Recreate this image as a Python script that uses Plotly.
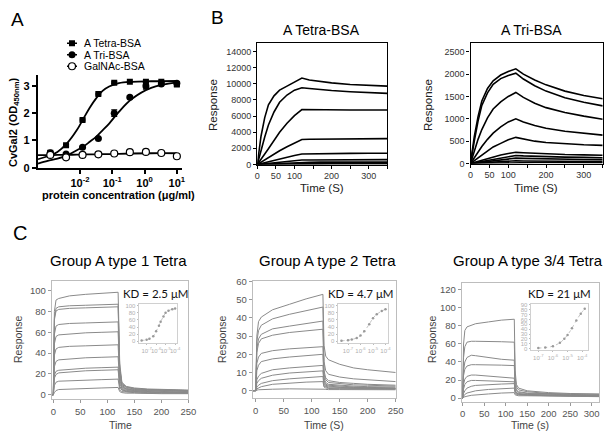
import plotly.graph_objects as go

W, H = 615, 443

# ---------------- Panel A: ELISA ----------------
A_CONC = [0.0012, 0.0037, 0.012, 0.037, 0.115, 0.35, 1.1, 3.3, 10]
A_TETRA = [0.55, 0.82, 1.75, 2.7, 3.12, 3.15, 3.15, 3.15, 3.05]
A_TETRA_ERR = [0.03, 0.03, 0.03, 0.03, 0.03, 0.02, 0.02, 0.02, 0.06]
A_TRI = [0.55, 0.5, 0.75, 1.07, 2.0, 2.58, 3.0, 3.07, 3.1]
A_TRI_ERR = [0.05, 0.04, 0.03, 0.03, 0.12, 0.05, 0.12, 0.04, 0.04]
A_GALNAC = [0.47, 0.38, 0.47, 0.49, 0.52, 0.57, 0.58, 0.54, 0.42]
A_GALNAC_ERR = [0.03, 0.07, 0.02, 0.02, 0.02, 0.02, 0.02, 0.02, 0.02]

A_FIT_CONC = [0.0005, 0.001, 0.002, 0.004, 0.008, 0.0125, 0.02, 0.032,
              0.05, 0.08, 0.16, 0.4, 1.6, 10]
A_TETRA_FIT = [0.31, 0.42, 0.58, 0.9, 1.38, 1.78, 2.2, 2.55, 2.82, 2.98,
               3.1, 3.15, 3.17, 3.18]
A_TRI_FIT = [0.15, 0.25, 0.33, 0.45, 0.64, 0.77, 0.95, 1.14, 1.37, 1.62,
             2.05, 2.52, 2.93, 3.13]
A_GALNAC_FIT = [0.46, 0.46, 0.47, 0.47, 0.48, 0.48, 0.49, 0.49, 0.5, 0.5,
                0.51, 0.52, 0.53, 0.53]
A_NAMES = ["A Tetra-BSA", "A Tri-BSA", "GalNAc-BSA"]

# ---------------- Panel B: SPR (BSA conjugates) ----------------
B_TIME = [0, 5, 10, 20, 30, 45, 60, 80, 100, 120, 140, 170, 200, 250, 300, 350]
B_TETRA = [
    [0, 1900, 3500, 5800, 7400, 8500, 9200, 9700, 10200, 10700, 10450, 10250, 10100, 9900, 9780, 9700],
    [0, 900, 1800, 3400, 4900, 6500, 7700, 8600, 9200, 9500, 9400, 9250, 9150, 9000, 8900, 8800],
    [0, 300, 650, 1300, 1950, 2950, 4000, 5100, 6050, 6800, 6780, 6770, 6760, 6750, 6750, 6750],
    [0, 150, 300, 600, 880, 1300, 1700, 2200, 2700, 3100, 3130, 3150, 3160, 3180, 3200, 3200],
    [0, 60, 120, 240, 360, 530, 700, 920, 1120, 1300, 1320, 1340, 1360, 1380, 1390, 1400],
    [0, 25, 50, 100, 150, 220, 290, 380, 470, 550, 560, 570, 580, 590, 600, 600],
    [0, 12, 25, 50, 75, 110, 150, 195, 240, 280, 285, 290, 295, 300, 300, 300],
    [0, 6, 12, 25, 37, 55, 75, 100, 125, 150, 152, 155, 157, 160, 160, 160],
    [0, 3, 6, 12, 18, 27, 36, 48, 60, 70, 71, 72, 73, 75, 75, 75],
]
B_TRI = [
    [0, 330, 600, 1050, 1400, 1680, 1850, 1980, 2060, 2120, 2000, 1870, 1760, 1620, 1520, 1450],
    [0, 270, 500, 950, 1300, 1580, 1770, 1900, 1970, 2020, 1890, 1740, 1620, 1470, 1370, 1290],
    [0, 140, 280, 540, 760, 1020, 1220, 1380, 1500, 1590, 1480, 1350, 1250, 1140, 1060, 990],
    [0, 65, 130, 260, 380, 540, 680, 820, 930, 1000, 930, 850, 790, 720, 670, 635],
    [0, 30, 60, 125, 190, 280, 370, 450, 530, 585, 550, 500, 470, 440, 420, 405],
    [0, 12, 25, 50, 75, 110, 150, 190, 225, 250, 240, 225, 212, 200, 192, 185],
    [0, 8, 17, 34, 50, 75, 100, 130, 155, 180, 170, 160, 152, 143, 136, 130],
    [0, 5, 11, 22, 33, 50, 66, 85, 105, 120, 114, 107, 101, 95, 90, 86],
    [0, 3, 6, 11, 16, 24, 32, 42, 52, 60, 57, 54, 51, 48, 46, 44],
    [0, 1, 2, 4, 6, 9, 12, 16, 20, 24, 23, 22, 21, 20, 19, 18],
]
B_XTICKS = [0, 50, 100, 150, 200, 250, 300, 350]
B_XTEXT = ["0", "50", "100", "", "200", "", "300", ""]

# ---------------- Panel C: SPR (glycans) ----------------
C1_TIME = [-5, 0, 2, 5, 10, 30, 60, 90, 120, 123, 127, 135, 150, 175, 200, 250]
C1_CURVES = [
    [0, 0, 80, 91, 92.5, 95, 96.5, 97.5, 98.5, 30, 12, 8, 6.5, 5.5, 5, 4.5],
    [0, 0, 74, 83, 84.5, 85.5, 86, 86.5, 87, 26, 11, 7.5, 6, 5, 4.5, 4],
    [0, 0, 72, 80.5, 82, 83, 83.5, 84, 84.5, 25, 10, 7, 5.5, 5, 4.5, 4],
    [0, 0, 58, 66, 67.5, 68.5, 69, 69.5, 70, 21, 9, 6, 5, 4.5, 4, 3.5],
    [0, 0, 49, 56, 57.5, 58.5, 59.5, 60, 60.5, 18, 8, 5.5, 4.5, 4, 3.5, 3],
    [0, 0, 38, 44, 45.5, 46.5, 47, 47.5, 48, 14, 7, 5, 4, 3.5, 3, 2.5],
    [0, 0, 27, 32, 33.5, 34.5, 35.5, 36, 36.5, 11, 6, 4, 3.5, 3, 2.5, 2],
    [0, 0, 19, 22.5, 23.5, 24.5, 25.5, 26, 26.5, 8, 5, 3.5, 3, 2.5, 2, 2],
    [0, 0, 16, 19.5, 21, 22, 23, 23.5, 24, 7.5, 4.5, 3, 2.5, 2, 2, 1.5],
    [0, 0, 9, 12, 13, 13.5, 14, 14.5, 15, 5, 3, 2.5, 2, 1.5, 1.5, 1.5],
    [0, 0, 2, 4, 5, 5.5, 6, 6.5, 7, 3, 2, 1.5, 1.5, 1, 1, 1],
]
C2_TIME = [-6, 0, 2, 5, 10, 30, 60, 90, 120, 122, 125, 130, 150, 175, 200, 250]
C2_CURVES = [
    [0, 0, 30, 38, 40.5, 44.5, 47.5, 50.5, 53, 25, 19, 17, 14.5, 12.5, 11.5, 10],
    [0, 0, 27, 33, 36, 39.5, 42, 44, 46, 16, 11, 9, 7.5, 6.5, 6, 5],
    [0, 0, 23, 28.5, 31, 34, 35.5, 37, 38.3, 11, 7, 5.5, 4.5, 4, 3.5, 3],
    [0, 0, 21, 26, 28.5, 30.5, 32, 33, 33.8, 9, 6, 4.5, 3.8, 3.2, 3, 2.5],
    [0, 0, 15, 18.5, 20.5, 22, 23, 23.7, 24.2, 7, 4.5, 3.5, 3, 2.5, 2.2, 2],
    [0, 0, 11, 14, 16, 17.5, 18.5, 19.3, 20, 5.5, 3.5, 3, 2.5, 2, 1.8, 1.5],
    [0, 0, 6, 8, 9.5, 11.5, 12.5, 13.3, 13.9, 4, 3, 2.5, 2, 1.8, 1.5, 1.3],
    [0, 0, 4, 5.5, 6.8, 8.5, 9.7, 10.4, 10.9, 3.5, 2.5, 2, 1.8, 1.5, 1.3, 1.2],
    [0, 0, 2, 3, 4, 5.5, 6.5, 7.3, 7.8, 2.5, 2, 1.5, 1.3, 1.2, 1, 1],
    [0, 0, 1, 1.5, 2.2, 3.5, 4.2, 4.7, 5, 2, 1.5, 1.2, 1, 1, 0.9, 0.8],
    [0, 0, 0.3, 0.5, 0.6, 0.8, 1, 1.1, 1.2, 0.8, 0.7, 0.6, 0.6, 0.5, 0.5, 0.5],
]
C3_TIME = [-3, 0, 2, 5, 10, 20, 30, 60, 90, 120, 122, 125, 130, 150, 200, 250, 300, 320]
C3_CURVES = [
    [0, 0, 60, 75, 79, 81, 82.5, 84.5, 86.5, 87.5, 30, 15, 11, 8, 6, 5, 4.5, 4.5],
    [0, 0, 45, 57, 62, 63, 63, 63, 62.5, 62, 22, 12, 9, 7, 5, 4.5, 4, 4],
    [0, 0, 30, 40, 45, 47.5, 47, 45, 43, 42, 15, 9, 7, 5.5, 4.5, 4, 3.5, 3.5],
    [0, 0, 25, 32, 35.5, 37, 37, 37, 36.5, 36, 12, 8, 6, 5, 4, 3.5, 3, 3],
    [0, 0, 15, 21, 24, 25.5, 25.5, 24.5, 23, 22, 9, 6, 5, 4, 3.5, 3, 2.5, 2.5],
    [0, 0, 10, 15, 18, 19.5, 19.5, 19, 18.5, 18, 8, 5.5, 4.5, 3.5, 3, 2.5, 2, 2],
    [0, 0, 5, 8, 11, 13, 14, 15, 15.5, 16, 7, 5, 4, 3.5, 3, 2.5, 2, 2],
    [0, 0, 2, 4, 5.5, 7, 8, 9.5, 10.5, 11, 5, 4, 3.5, 3, 2.5, 2, 2, 2],
    [0, 0, 1, 1.5, 2, 3, 3.5, 4.5, 5.5, 6, 3.5, 3, 2.5, 2.5, 2, 1.5, 1.5, 1.5],
]

# insets: steady-state fits (concentration in M, response)
I1_CONC = [3e-8, 1e-7, 2e-7, 5e-7, 1e-6, 2e-6, 3e-6, 6e-6, 1e-5, 2e-5, 5e-5, 1e-4]
I1_RESP = [2, 4, 7, 14, 28, 44, 55, 70, 80, 86, 90, 92]
I2_CONC = [3e-8, 1e-7, 2e-7, 5e-7, 1e-6, 2e-6, 5e-6, 1e-5, 2e-5, 5e-5, 1e-4]
I2_RESP = [1, 3, 5, 9, 16, 28, 48, 65, 76, 85, 90]
I3_CONC = [1e-7, 3e-7, 1e-6, 3e-6, 6e-6, 1e-5, 2e-5, 4e-5, 8e-5, 1.5e-4]
I3_RESP = [1, 2, 5, 12, 20, 28, 42, 58, 72, 82]
I_XTICKS = [1e-7, 1e-6, 1e-5, 1e-4]
I_XTEXT = ["10<sup>-7</sup>", "10<sup>-6</sup>", "10<sup>-5</sup>", "10<sup>-4</sup>"]

C_KD = ["KD = 2.5 \u03bcM", "KD = 4.7 \u03bcM", "KD = 21 \u03bcM"]
C_TITLES = ["Group A type 1 Tetra", "Group A type 2 Tetra", "Group A type 3/4 Tetra"]
C_XTITLES = ["Time", "Time (S)", "Time (s)"]


def px(x):
    return x / W


def py(y):
    return 1 - y / H


ARIAL = "Arial, Liberation Sans, sans-serif"
fig = go.Figure()

# ---- A traces
for fit in (A_TETRA_FIT, A_TRI_FIT, A_GALNAC_FIT):
    fig.add_trace(go.Scatter(x=A_FIT_CONC, y=fit, mode="lines", line=dict(color="black", width=1.8),
                             xaxis="x", yaxis="y", line_shape="spline"))
markers = [
    dict(symbol="square", color="black", size=6),
    dict(symbol="circle", color="black", size=7),
    dict(symbol="circle", color="white", size=7, line=dict(color="black", width=1.2)),
]
for vals, err, mk in zip((A_TETRA, A_TRI, A_GALNAC), (A_TETRA_ERR, A_TRI_ERR, A_GALNAC_ERR), markers):
    fig.add_trace(go.Scatter(x=A_CONC, y=vals, mode="markers", marker=mk, xaxis="x", yaxis="y",
                             error_y=dict(array=err, color="black", thickness=1.2, width=3)))

# legend keys for panel A on a hidden helper axis (index 0 at top): short line + centre marker
for i, mk in enumerate(markers):
    fig.add_trace(go.Scatter(x=[0, 1], y=[i, i], mode="lines", line=dict(color="black", width=1.5),
                             xaxis="x10", yaxis="y10"))
    fig.add_trace(go.Scatter(x=[0.5], y=[i], mode="markers", marker=mk, xaxis="x10", yaxis="y10"))

# ---- B traces
for curve in B_TETRA:
    fig.add_trace(go.Scatter(x=B_TIME, y=curve, mode="lines", line=dict(color="black", width=1.6),
                             xaxis="x2", yaxis="y2", cliponaxis=False))
for curve in B_TRI:
    fig.add_trace(go.Scatter(x=B_TIME, y=curve, mode="lines", line=dict(color="black", width=1.6),
                             xaxis="x3", yaxis="y3", cliponaxis=False))

# ---- C traces
for i, (t, curves) in enumerate([(C1_TIME, C1_CURVES), (C2_TIME, C2_CURVES), (C3_TIME, C3_CURVES)]):
    for curve in curves:
        fig.add_trace(go.Scatter(x=t, y=curve, mode="lines", line=dict(color="#8a8a8a", width=1),
                                 xaxis=f"x{4 + i}", yaxis=f"y{4 + i}"))

# ---- insets
for i, (c, r) in enumerate([(I1_CONC, I1_RESP), (I2_CONC, I2_RESP), (I3_CONC, I3_RESP)]):
    fig.add_trace(go.Scatter(x=c, y=r, mode="lines+markers", line=dict(color="#b5b5b5", width=0.8, dash="dot"),
                             marker=dict(size=2.5, color="#9a9a9a"), line_shape="spline",
                             xaxis=f"x{7 + i}", yaxis=f"y{7 + i}"))

# ---------------- layout ----------------
base = dict(showgrid=False, zeroline=False, automargin=False)
axA = dict(base, showline=True, linecolor="black", linewidth=2, ticks="outside", tickwidth=2,
           ticklen=4, tickcolor="black", tickfont=dict(family=ARIAL, size=11, color="black"))
bold_dec = [f"<b>10<sup>{p}</sup></b>" for p in (-2, -1, 0, 1)]

axB = dict(base, showline=True, linecolor="black", linewidth=1.3, mirror=True, ticks="outside",
           ticklen=3, tickcolor="black", tickformat="d",
           tickfont=dict(family=ARIAL, size=9, color="#333"))

axC = dict(base, showline=True, linecolor="#bdbdbd", linewidth=1, mirror=True, ticks="outside",
           ticklen=3, tickcolor="#999", tickfont=dict(family=ARIAL, size=9.5, color="#555"))

axI = dict(base, showline=True, linecolor="#d0d0d0", linewidth=0.8, mirror=True, ticks="outside",
           ticklen=1.5, tickcolor="#bbb", tickangle=0,
           tickfont=dict(family=ARIAL, size=6, color="#b0b0b0"))

fig.update_layout(
    template="none",
    width=W, height=H, margin=dict(l=0, r=0, t=0, b=0),
    paper_bgcolor="white", plot_bgcolor="rgba(0,0,0,0)",
    showlegend=False,
    xaxis=dict(axA, type="log", range=[-3.31, 1.15], domain=[px(37.7), px(181.7)], anchor="y",
               tickvals=[0.01, 0.1, 1, 10], ticktext=bold_dec),
    yaxis=dict(axA, range=[0, 3.4], domain=[py(167.7), py(75)], anchor="x",
               tickvals=[0, 1, 2, 3], ticktext=["<b>0</b>", "<b>1</b>", "<b>2</b>", "<b>3</b>"]),
    xaxis10=dict(base, visible=False, range=[-0.05, 1.05], domain=[px(66.5), px(77.5)], anchor="y10"),
    yaxis10=dict(base, visible=False, range=[2.5, -0.5], domain=[py(72), py(37.5)], anchor="x10"),
    xaxis2=dict(axB, range=[0, 350], domain=[px(257.3), px(387.3)], anchor="y2",
                tickvals=B_XTICKS, ticktext=B_XTEXT),
    yaxis2=dict(axB, range=[0, 15000], domain=[py(164.5), py(43.3)], anchor="x2",
                tickvals=list(range(0, 14001, 2000))),
    xaxis3=dict(axB, range=[0, 350], domain=[px(470.5), px(602.7)], anchor="y3",
                tickvals=B_XTICKS, ticktext=B_XTEXT),
    yaxis3=dict(axB, range=[0, 2690], domain=[py(163.5), py(43.3)], anchor="x3",
                tickvals=list(range(0, 2501, 500))),
    xaxis4=dict(axC, range=[-3, 250], domain=[px(51.7), px(188.3)], anchor="y4",
                tickvals=[0, 50, 100, 150, 200, 250]),
    yaxis4=dict(axC, range=[-4.4, 109.6], domain=[py(399.3), py(280.7)], anchor="x4",
                tickvals=[0, 20, 40, 60, 80, 100]),
    xaxis5=dict(axC, range=[-5.4, 250], domain=[px(252.7), px(395.7)], anchor="y5",
                tickvals=[0, 50, 100, 150, 200, 250]),
    yaxis5=dict(axC, range=[-4.2, 60.5], domain=[py(398.3), py(280.7)], anchor="x5",
                tickvals=[0, 10, 20, 30, 40, 50, 60]),
    xaxis6=dict(axC, range=[-2.3, 317], domain=[px(461.7), px(599)], anchor="y6",
                tickvals=[0, 50, 100, 150, 200, 250, 300]),
    yaxis6=dict(axC, range=[-4.1, 127.4], domain=[py(401.7), py(283.3)], anchor="x6",
                tickvals=[0, 20, 40, 60, 80, 100, 120]),
    xaxis7=dict(axI, type="log", range=[-7.8, -3.8], domain=[px(139), px(177)], anchor="y7",
                tickvals=I_XTICKS, ticktext=I_XTEXT),
    yaxis7=dict(axI, range=[-5, 105], domain=[py(343), py(304)], anchor="x7",
                tickvals=[0, 20, 40, 60, 80, 100]),
    xaxis8=dict(axI, type="log", range=[-7.8, -3.8], domain=[px(338), px(388)], anchor="y8",
                tickvals=I_XTICKS, ticktext=I_XTEXT),
    yaxis8=dict(axI, range=[-5, 105], domain=[py(343), py(304)], anchor="x8",
                tickvals=[0, 20, 40, 60, 80, 100]),
    xaxis9=dict(axI, type="log", range=[-7.5, -3.6], domain=[px(531), px(588)], anchor="y9",
                tickvals=I_XTICKS, ticktext=I_XTEXT),
    yaxis9=dict(axI, range=[-3, 92], domain=[py(350), py(304)], anchor="x9",
                tickvals=list(range(0, 91, 10))),
)

ann = []


def text(x, y, s, size, family=ARIAL, color="black", angle=0, xanchor="center"):
    ann.append(dict(x=px(x), y=py(y), xref="paper", yref="paper", text=s, showarrow=False,
                    xanchor=xanchor, yanchor="middle", textangle=angle,
                    font=dict(family=family, size=size, color=color)))


# panel letters
text(17, 20, "A", 19)
text(217, 18, "B", 19)
text(20, 233, "C", 20)
# panel A labels + legend text
text(14, 122, "<b>CvGal2 (OD<sub>450nm</sub>)</b>", 11, angle=-90)
text(118, 195, "<b>protein concentration (\u03bcg/ml)</b>", 11)
for i, name in enumerate(A_NAMES):
    text(82, 43.25 + 11.5 * i, name, 10.5, xanchor="left")
# panel B labels
text(321, 30, "A Tetra-BSA", 14)
text(531, 30, "A Tri-BSA", 14)
text(213, 105, "Response", 11.5, color="#222", angle=-90)
text(428, 105, "Response", 11.5, color="#222", angle=-90)
text(322, 188, "Time (S)", 11.5, color="#222")
text(536, 188, "Time (S)", 11.5, color="#222")
# panel C labels
for tx, ylx, xlx, i in [(118, 18, 120, 0), (327, 222, 324, 1), (528, 432, 530, 2)]:
    text(tx, 260, C_TITLES[i], 15)
    text(ylx, 340, "Response", 10.5, color="#444", angle=-90)
    text(xlx, 425, C_XTITLES[i], 10.5, color="#444")
for (kx, s) in zip((155, 360, 559), C_KD):
    text(kx, 293, s, 11.5, family="Lato, Open Sans, sans-serif", color="#111")

fig.update_layout(annotations=ann)
# remove the browser's default 8px body margin so the figure sits at the page origin
fig.write_html("out.html", config={"displayModeBar": False},
               post_script="document.body.style.margin='0';")
